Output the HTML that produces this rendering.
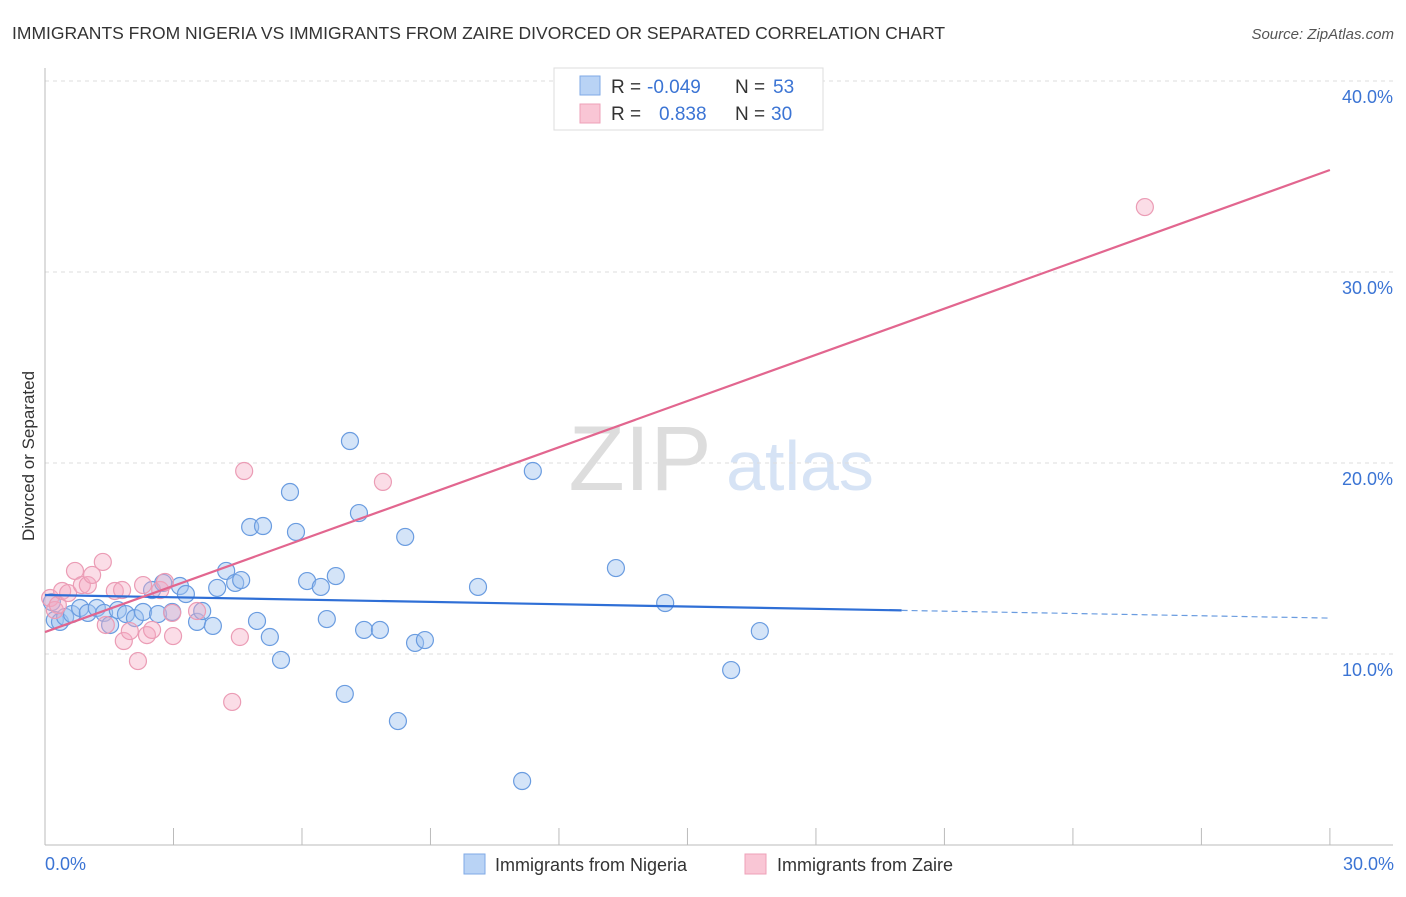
<!DOCTYPE html>
<html><head><meta charset="utf-8"><style>
body{margin:0;background:#fff;font-family:"Liberation Sans",sans-serif;}
svg text{font-family:"Liberation Sans",sans-serif;}
</style></head><body>
<svg id="c" width="1406" height="892">
<text x="12" y="39" font-size="17.5" fill="#333">IMMIGRANTS FROM NIGERIA VS IMMIGRANTS FROM ZAIRE DIVORCED OR SEPARATED CORRELATION CHART</text>
<text x="1394" y="39" font-size="15" fill="#555" font-style="italic" text-anchor="end">Source: ZipAtlas.com</text>
<text x="640" y="490" font-size="92" fill="#ddd" font-family="Liberation Serif" text-anchor="middle">ZIP</text>
<text x="800" y="490" font-size="70" fill="#d6e3f5" text-anchor="middle">atlas</text>
<text x="34" y="456" font-size="17" fill="#333" text-anchor="middle" transform="rotate(-90 34 456)">Divorced or Separated</text>
<g id="grid"></g><g id="marks"></g>
<g>
<rect x="554" y="68" width="269" height="62" fill="#fff" stroke="#ddd"/>
<rect x="580" y="76" width="20" height="19" fill="#b9d3f5" stroke="#7faae6"/>
<rect x="580" y="104" width="20" height="19" fill="#f9c6d5" stroke="#eea0b8"/>
<text x="611" y="93" font-size="19" fill="#333">R = </text><text x="647" y="93" font-size="19" fill="#3b74d4">-0.049</text>
<text x="735" y="93" font-size="19" fill="#333">N = </text><text x="773" y="93" font-size="19" fill="#3b74d4">53</text>
<text x="611" y="120" font-size="19" fill="#333">R = </text><text x="659" y="120" font-size="19" fill="#3b74d4">0.838</text>
<text x="735" y="120" font-size="19" fill="#333">N = </text><text x="771" y="120" font-size="19" fill="#3b74d4">30</text>
</g>
<g>
<rect x="464" y="854" width="21" height="20" fill="#b9d3f5" stroke="#7faae6"/>
<text x="495" y="871" font-size="18" fill="#333">Immigrants from Nigeria</text>
<rect x="745" y="854" width="21" height="20" fill="#f9c6d5" stroke="#eea0b8"/>
<text x="777" y="871" font-size="18" fill="#333">Immigrants from Zaire</text>
</g>
</svg>
<script>
const yTicks=[10,20,30,40];
const xTickLabels=["0.0%","30.0%"];
const nigeriaX=[0.16,0.23,0.35,0.47,0.63,0.82,1.00,1.21,1.38,1.52,1.70,1.89,2.10,2.29,2.50,2.64,2.76,2.97,3.15,3.29,3.55,3.67,3.92,4.02,4.23,4.44,4.58,4.79,4.95,5.09,5.25,5.51,5.72,5.86,6.12,6.44,6.58,6.79,7.00,7.12,7.33,7.45,7.82,8.24,8.41,8.64,8.87,10.11,11.14,11.39,13.33,14.48,16.02,16.69];
const nigeriaY=[12.72,11.78,11.68,11.94,12.09,12.41,12.15,12.41,12.15,11.52,12.30,12.09,11.88,12.20,13.35,12.09,13.72,12.20,13.56,13.14,11.68,12.25,11.47,13.46,14.35,13.72,13.87,16.65,11.73,16.70,10.89,9.69,18.48,16.39,13.82,13.51,11.83,14.08,7.91,21.15,17.38,11.26,11.26,6.49,16.13,10.58,10.73,13.51,3.35,19.58,14.50,12.67,9.16,11.20];
const zaireX=[0.12,0.23,0.30,0.40,0.54,0.70,0.86,1.00,1.10,1.35,1.42,1.63,1.80,1.84,1.98,2.17,2.29,2.38,2.50,2.69,2.80,2.97,2.99,3.55,4.37,4.55,4.65,7.89,25.68];
const zaireY=[12.93,12.30,12.57,13.30,13.19,14.35,13.61,13.61,14.14,14.82,11.52,13.30,13.35,10.68,11.20,9.63,13.61,10.99,11.26,13.35,13.77,12.15,10.94,12.25,7.49,10.89,19.58,19.01,33.40];
const nigeriaTrend=[13.09,11.88]; // y at x=0 and x=30
const zaireTrend=[11.15,35.34];
const X=v=>45+v*42.83, Y=v=>845-v*19.1;
const NS="http://www.w3.org/2000/svg";
function mk(t,a,p){const e=document.createElementNS(NS,t);for(const k in a)e.setAttribute(k,a[k]);p.appendChild(e);return e;}
const g=document.getElementById('grid'), m=document.getElementById('marks');
yTicks.forEach(t=>{
 const l=mk('line',{x1:45,x2:1393,y1:Y(t),y2:Y(t),stroke:'#ddd','stroke-dasharray':'4 4'},g);
 
 
 const tx=mk('text',{x:1393,y:Y(t)+22,'font-size':18,fill:'#3b74d4','text-anchor':'end'},g);
 tx.textContent=t.toFixed(1)+'%';
 
 
});
mk('line',{x1:45,x2:45,y1:68,y2:845,stroke:'#bbb'},g);
mk('line',{x1:45,x2:1393,y1:845,y2:845,stroke:'#bbb'},g);
for(let i=0;i<=10;i++){const t=mk('line',{x1:X(i*3),x2:X(i*3),y1:828,y2:845,stroke:'#bbb'},g);
 
 }
[[0,'start',45],[30,'end',1394]].forEach((d,i)=>{const t=mk('text',{x:d[2],y:870,'font-size':18,fill:'#3b74d4','text-anchor':d[1]},g);t.textContent=xTickLabels[i];
 
 });
nigeriaX.forEach((x,i)=>{const c=mk('circle',{cx:X(x),cy:Y(nigeriaY[i]),r:8.5,fill:'rgba(160,195,240,0.45)',stroke:'#6a9ce0','stroke-width':1.2},m);
 
 });
zaireX.forEach((x,i)=>{const c=mk('circle',{cx:X(x),cy:Y(zaireY[i]),r:8.5,fill:'rgba(245,170,195,0.4)',stroke:'#eb9cb5','stroke-width':1.2},m);
 
 });
const nt=x=>nigeriaTrend[0]+(nigeriaTrend[1]-nigeriaTrend[0])*x/30;
const zt=x=>zaireTrend[0]+(zaireTrend[1]-zaireTrend[0])*x/30;
let l=mk('line',{x1:X(0),y1:Y(nt(0)),x2:X(20),y2:Y(nt(20)),stroke:'#2f6fd6','stroke-width':2.2},m);


l=mk('line',{x1:X(20),y1:Y(nt(20)),x2:X(30),y2:Y(nt(30)),stroke:'#6a9ce0','stroke-width':1.2,'stroke-dasharray':'6 4'},m);


l=mk('line',{x1:X(0),y1:Y(zt(0)),x2:X(30),y2:Y(zt(30)),stroke:'#e2668f','stroke-width':2.2},m);


</script>
</body></html>
